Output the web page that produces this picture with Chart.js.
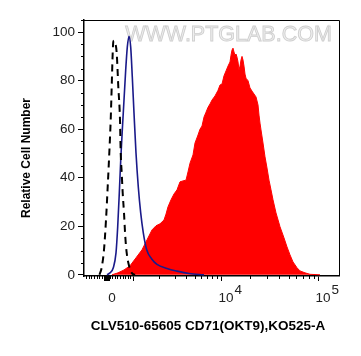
<!DOCTYPE html>
<html><head><meta charset="utf-8">
<script src="https://cdn.jsdelivr.net/npm/chart.js@4.4.1/dist/chart.umd.min.js"></script>
<style>html,body{margin:0;padding:0;background:#fff;}#c{display:block;width:361px;height:356px;}</style>
</head><body><canvas id="c" width="361" height="356"></canvas>
<script>
const FONT = "'Liberation Sans', Arial, Helvetica, sans-serif";

// x values are display channels (0-255) of the biexponential KO525-A axis
const redChannels = [28,34,40,46,52,58,63,68,72,76,
  80,82,84,87,90,93,96,99,102,104,
  106,109,111,114,116,118,120,122,124,126,
  128,131,134,136,138,140,142,144,146,147,
  148,149,150,151,152,153,154,155,156,157,
  158,159,160,161,162,164,166,168,170,172,
  174,175,176,177,179,181,183,185,187,189,
  192,196,200,203,206,209,213,216,221,226,
  236];
const redCounts = [0,0.8,2,3.7,7,10.3,14.4,18.5,20.2,21,
  22.6,25,28,30.9,33.3,35,38.3,38.7,39,42.4,
  46,49.4,54.3,57.6,60,61.3,65,67,69,70.4,
  72,73.7,76,78.2,78.6,82,84,86,87.7,90.5,
  92.6,93.4,91.8,90.5,91,89.7,87.7,84.4,86,88.5,
  90,88.5,86,82.7,81,80,77,75.7,74.5,73.3,
  70,65.8,62.5,59.7,54.3,48.6,44,39,35,30.9,
  25.5,19.8,15.2,11.5,8.2,5.3,2.9,1.6,0.8,0.2,
  0];

const blueChannels = [23,26,29.3,32,33.7,35.3,36.7,38.3,40,41.7,43.3,45,46.7,48.3,50,52,54.3,56.7,59.3,62.7,67.7,73,83,93,105,120];
const blueCounts   = [0,0.8,2.9,9,19.8,33.7,47,59.7,72,84.4,93.8,98.3,93.8,81.5,66.7,50.2,36.2,25.5,17.3,10.3,6.5,4.3,2.6,1.5,0.5,0];

const isoChannels = [15.5,17.7,20,22,23.7,25.3,26.7,27.7,28.7,29.3,30,30.7,32.7,34.3,36,36.7,37.7,38.7,40,41.3,42.7,45.3,47.7,51];
const isoCounts   = [0,3,10.3,22.6,36.3,50.2,63.8,77.5,91.4,96,96.5,96,91.4,77.5,63.8,50.2,42,33.7,25.5,15.6,9,3.3,0.8,0];

const yTickValues = [0,20,40,60,80,100];
const yMinorTickValues = [5,10,15,25,30,35,45,50,55,65,70,75,85,90,95,105];

// axis decades: channel of 0, 10^3, 10^4, 10^5
const xMajorTickChannels = [23,49,137,234];
const xTickBases = ['0','','10','10'];
const xTickExponents = ['','','4','5'];

const xMinorTickChannels = (() => {
  const [c0,c3,c4,c5] = xMajorTickChannels;
  const out = [];
  for (let k=1;k<=8;k++) out.push(c0-(c3-c0)*k/10);
  for (let k=1;k<=9;k++) out.push(c0+(c3-c0)*k/10);
  for (let k=2;k<=9;k++) out.push(c3+(c4-c3)*Math.log10(k));
  for (let k=2;k<=9;k++) out.push(c4+(c5-c4)*Math.log10(k));
  return out;
})();

const pts = (xs, ys) => xs.map((x,i)=>({x, y: ys[i]}));

const decor = {
  id:'decor',
  beforeDatasetsDraw(chart){
    const {ctx, chartArea:a} = chart;
    ctx.save();
    ctx.font = `21.5px ${FONT}`;
    ctx.textAlign='center'; ctx.textBaseline='alphabetic';
    ctx.fillStyle='#efefef'; ctx.strokeStyle='#cfcfcf'; ctx.lineWidth=0.9;
    ctx.fillText('WWW.PTGLAB.COM', a.left+144.5, a.top+21);
    ctx.strokeText('WWW.PTGLAB.COM', a.left+144.5, a.top+21);
    ctx.restore();
  },
  afterDraw(chart){
    const {ctx, chartArea:a, scales:{x,y}} = chart;
    ctx.save();
    ctx.strokeStyle='#000'; ctx.lineWidth=1;
    ctx.beginPath();
    ctx.moveTo(a.left, a.top+0.5); ctx.lineTo(a.right+0.5, a.top+0.5);
    ctx.lineTo(a.right+0.5, a.bottom);
    ctx.stroke();
    ctx.beginPath();
    yMinorTickValues.forEach(v=>{const p=Math.round(y.getPixelForValue(v))+0.5; ctx.moveTo(a.left-3,p); ctx.lineTo(a.left,p);});
    xMinorTickChannels.forEach(c=>{const p=Math.round(x.getPixelForValue(c))+0.5; if(p<a.left||p>a.right) return; ctx.moveTo(p,a.bottom); ctx.lineTo(p,a.bottom+3);});
    ctx.stroke();
    const z = x.getPixelForValue(xMajorTickChannels[0]);
    ctx.fillStyle='#000';
    ctx.fillRect(Math.round(z)-3, a.bottom, 6, 5);
    // x tick labels
    ctx.fillStyle='#222';
    ctx.textBaseline='alphabetic';
    xMajorTickChannels.forEach((c,i)=>{
      const b=xTickBases[i], e=xTickExponents[i];
      if(!b) return;
      const p = x.getPixelForValue(c)+5;
      ctx.font=`13.5px ${FONT}`;
      ctx.textAlign='center';
      ctx.fillText(b, p, a.bottom+26);
      if(e){
        const w = ctx.measureText(b).width;
        ctx.textAlign='left';
        ctx.fillText(e, p+w/2+1, a.bottom+17.5);
      }
    });
    // axis titles
    ctx.fillStyle='#000';
    ctx.font=`bold 13.5px ${FONT}`;
    ctx.textAlign='center'; ctx.textBaseline='middle';
    ctx.fillText('CLV510-65605 CD71(OKT9),KO525-A', 208, 326);
    ctx.translate(27,158); ctx.rotate(-Math.PI/2);
    ctx.font=`bold 12px ${FONT}`;
    ctx.fillText('Relative Cell Number', 0, 0);
    ctx.restore();
  }
};

new Chart(document.getElementById('c'), {
  type:'line',
  data:{datasets:[
    {label:'Isotype control', data:pts(isoChannels, isoCounts), borderColor:'#000', borderWidth:2, borderDash:[7,5], fill:false, pointRadius:0, cubicInterpolationMode:'monotone', order:1},
    {label:'Unstained', data:pts(blueChannels, blueCounts), borderColor:'#1a1a8a', borderWidth:1.6, fill:false, pointRadius:0, cubicInterpolationMode:'monotone', order:2},
    {label:'CD71', data:pts(redChannels, redCounts), borderColor:'#ff0000', backgroundColor:'#ff0000', borderWidth:1, fill:'origin', pointRadius:0, tension:0, order:3}
  ]},
  options:{
    responsive:false, animation:false, devicePixelRatio:1,
    layout:{padding:{top:20,right:22,left:0,bottom:0}},
    plugins:{legend:{display:false}, tooltip:{enabled:false}},
    scales:{
      x:{type:'linear', min:0, max:255,
        afterFit(s){ s.height = 80; },
        afterBuildTicks(s){ s.ticks = xMajorTickChannels.map(v=>({value:v})); },
        ticks:{display:false, autoSkip:false},
        grid:{display:true, drawOnChartArea:false, drawTicks:true, tickLength:5, tickColor:'#000', tickWidth:1},
        border:{display:true, color:'#000', width:1.5}
      },
      y:{type:'linear', min:-0.5, max:105,
        afterFit(s){ s.width = 84; },
        afterBuildTicks(s){ s.ticks = yTickValues.map(v=>({value:v})); },
        ticks:{color:'#222', font:{family:FONT, size:13.5}, padding:3, autoSkip:false},
        grid:{display:true, drawOnChartArea:false, drawTicks:true, tickLength:6, tickColor:'#000', tickWidth:1},
        border:{display:true, color:'#000', width:1.5}
      }
    }
  },
  plugins:[decor]
});
</script></body></html>
